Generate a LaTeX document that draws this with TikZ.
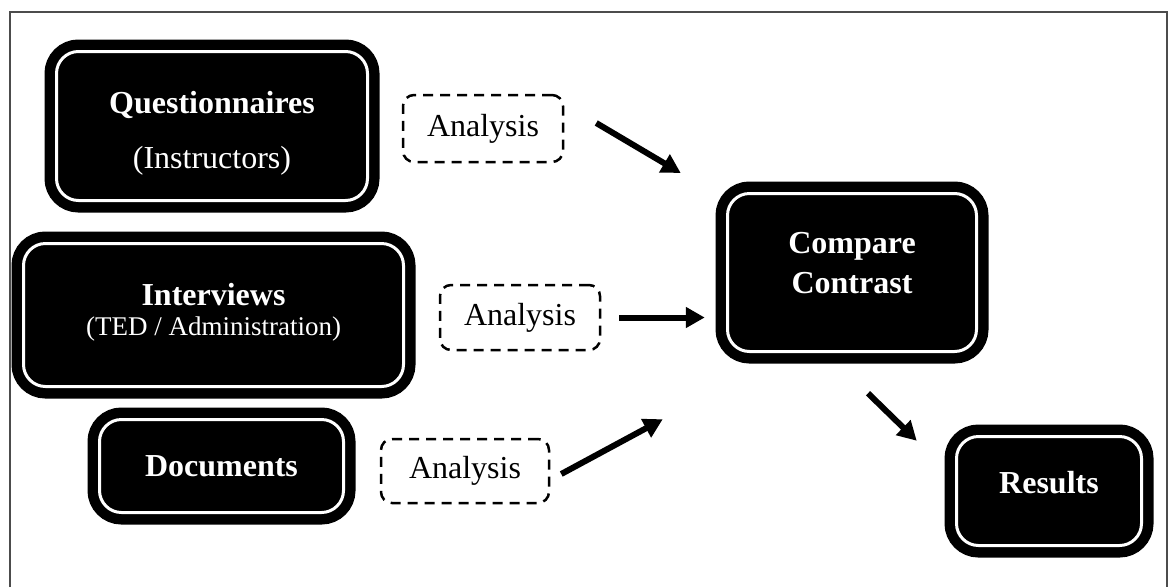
\documentclass[tikz,border=0pt]{standalone}
\usepackage{fontspec}
\setmainfont{Liberation Serif}
\usetikzlibrary{arrows.meta,positioning,calc}
\tikzset{bigbox/.style={draw=black,fill=black,line width=10.5pt,double=white,double distance=3pt,rounded corners=22pt,text=white,align=center,inner sep=0pt,font=\fontsize{32}{37}\selectfont},anabox/.style={draw=black,line width=2.5pt,dash pattern=on 10pt off 7pt,rounded corners=11pt,inner sep=0pt,font=\fontsize{32}{37}\selectfont},arr/.style={-{Triangle[length=19pt,width=20pt]},line width=6pt},frame/.style={draw=black!70,line width=1.5pt}}
\begin{document}
\begin{tikzpicture}[x=1pt,y=-1pt]
\useasboundingbox (0,0) rectangle (1172,587);
\draw[frame] (10,587) |- (1167,12) -- (1167,587);
% sources
\node[bigbox,minimum width=311pt,minimum height=149pt] (q) at (212,126) {\rule{0pt}{36pt}\textbf{Questionnaires}\\[18pt](Instructors)};
\node[bigbox,minimum width=380pt,minimum height=143pt,text depth=12pt] (iv) at (213.5,315) {\textbf{Interviews}\\[-7pt]{\fontsize{27}{30}\selectfont(TED / Administration)}};
\node[bigbox,minimum width=244pt,minimum height=93pt] (doc) at (221.5,466) {\textbf{Documents}};
% analysis steps
\node[anabox,minimum width=160pt,minimum height=67pt] (a1) at (483,128.5) {Analysis};
\node[anabox,minimum width=160pt,minimum height=65pt] (a2) at (520,317.5) {Analysis};
\node[anabox,minimum width=168pt,minimum height=64pt] (a3) at (465,471) {Analysis};
% outcome
\node[bigbox,minimum width=249pt,minimum height=158pt,text depth=20pt] (cc) at (852,272.5) {\textbf{Compare}\\[3pt]\textbf{Contrast}};
\node[bigbox,minimum width=185pt,minimum height=109pt,text depth=18pt] (res) at (1049,491) {\textbf{Results}};
\draw[arr] ($(a1.east)+(32,-5.5)$) -- ($(cc.west)+(-41.5,-99.5)$);
\draw[arr] ($(a2.east)+(18,0)$) -- ($(a2.east -| cc.west)+(-17.5,0)$);
\draw[arr] ($(a3.east)+(11,3)$) -- ($(cc.south west)+(-59.5,62.5)$);
\draw[arr] ($(cc.south)+(16,36.5)$) -- ($(res.north west)+(-34.5,9.5)$);
\end{tikzpicture}
\end{document}
